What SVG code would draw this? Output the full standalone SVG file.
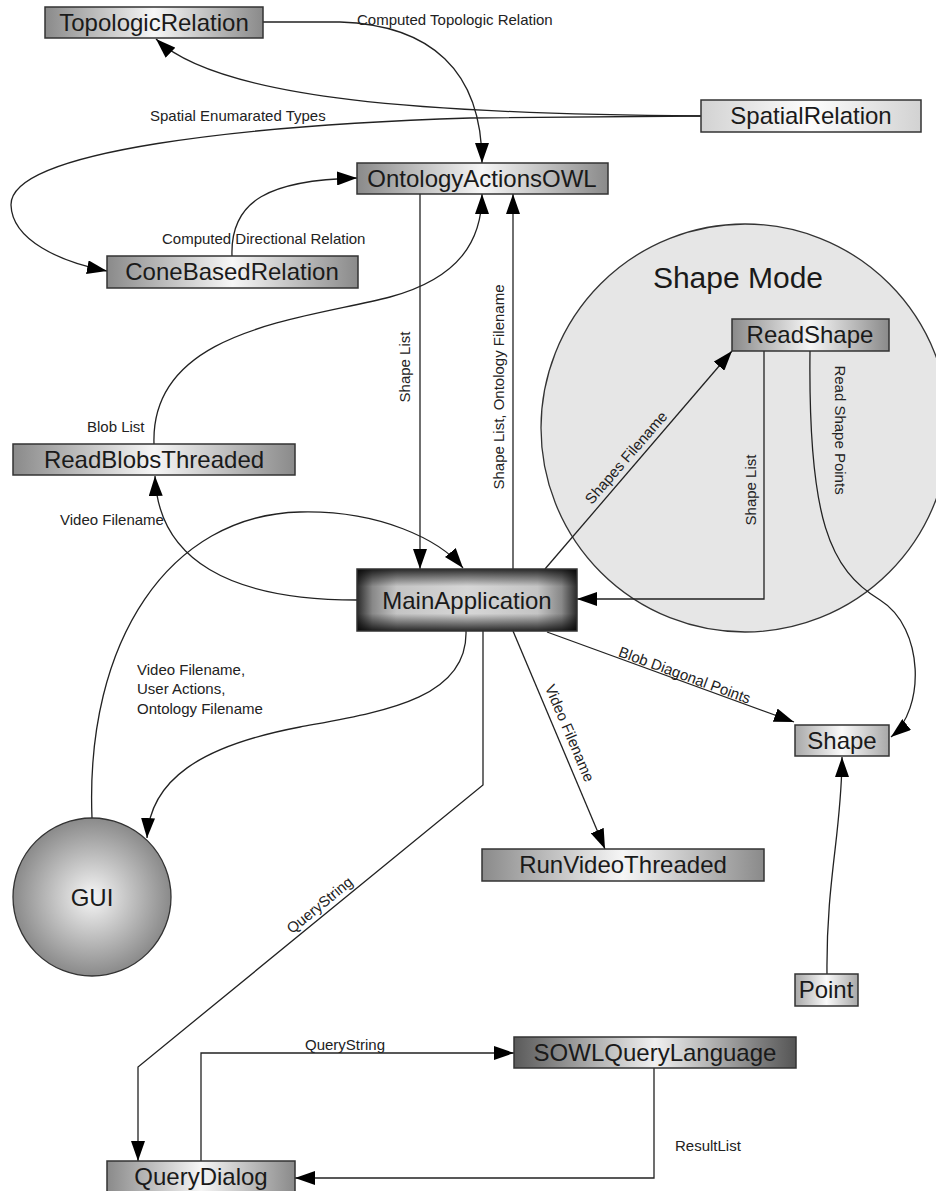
<svg xmlns="http://www.w3.org/2000/svg" width="936" height="1191" viewBox="0 0 936 1191">
  <defs>
    <style>
      .box { stroke: #333; stroke-width: 1.5; }
      .name { font-family: "Liberation Sans", Arial, sans-serif; font-size: 24px; fill: #1a1a1a; text-anchor: middle; }
      .lbl { font-family: "Liberation Sans", Arial, sans-serif; font-size: 15px; fill: #222; }
      .mid { text-anchor: middle; }
      .edge { fill: none; stroke: #222; stroke-width: 1.3; marker-end: url(#arrow); }
      .plain { fill: none; stroke: #222; stroke-width: 1.3; }
    </style>
    <marker id="arrow" viewBox="0 0 20 14" refX="20" refY="7" markerWidth="20" markerHeight="14" markerUnits="userSpaceOnUse" orient="auto">
      <path d="M0,0 L20,7 L0,14 z" fill="#000"/>
    </marker>
    <linearGradient id="boxG" x1="0" y1="0" x2="1" y2="0">
      <stop offset="0" stop-color="#8a8a8a"/>
      <stop offset="0.5" stop-color="#f6f6f6"/>
      <stop offset="1" stop-color="#8a8a8a"/>
    </linearGradient>
    <linearGradient id="darkG" x1="0" y1="0" x2="1" y2="0">
      <stop offset="0" stop-color="#5a5a5a"/>
      <stop offset="0.5" stop-color="#f0f0f0"/>
      <stop offset="1" stop-color="#555"/>
    </linearGradient>
    <linearGradient id="midG" x1="0" y1="0" x2="1" y2="0">
      <stop offset="0" stop-color="#a8a8a8"/>
      <stop offset="0.5" stop-color="#fafafa"/>
      <stop offset="1" stop-color="#a8a8a8"/>
    </linearGradient>
    <linearGradient id="lightG" x1="0" y1="0" x2="1" y2="0">
      <stop offset="0" stop-color="#d2d2d2"/>
      <stop offset="0.5" stop-color="#fdfdfd"/>
      <stop offset="1" stop-color="#d2d2d2"/>
    </linearGradient>
    <linearGradient id="mainH" x1="0" y1="0" x2="1" y2="0">
      <stop offset="0" stop-color="#2a2a2a"/>
      <stop offset="0.07" stop-color="#888"/>
      <stop offset="0.18" stop-color="#c4c4c4"/>
      <stop offset="0.5" stop-color="#d6d6d6"/>
      <stop offset="0.82" stop-color="#c4c4c4"/>
      <stop offset="0.93" stop-color="#888"/>
      <stop offset="1" stop-color="#2a2a2a"/>
    </linearGradient>
    <linearGradient id="mainV" x1="0" y1="0" x2="0" y2="1">
      <stop offset="0" stop-color="#000" stop-opacity="0.8"/>
      <stop offset="0.28" stop-color="#000" stop-opacity="0"/>
      <stop offset="0.72" stop-color="#000" stop-opacity="0"/>
      <stop offset="1" stop-color="#000" stop-opacity="0.8"/>
    </linearGradient>
    <radialGradient id="guiG" cx="0.5" cy="0.5" r="0.5">
      <stop offset="0" stop-color="#f6f6f6"/>
      <stop offset="1" stop-color="#8a8a8a"/>
    </radialGradient>
  </defs>

  <rect width="936" height="1191" fill="#fff"/>

  <!-- Shape Mode region -->
  <g id="shape-mode">
    <circle cx="745" cy="428" r="204" fill="#e6e6e6" stroke="#333" stroke-width="1.3"/>
    <text x="738" y="288" font-family="Liberation Sans, Arial, sans-serif" font-size="30" fill="#1a1a1a" text-anchor="middle">Shape Mode</text>
  </g>

  <!-- Connectors -->
  <g id="connectors">
    <!-- SpatialRelation -> TopologicRelation -->
    <path class="edge" d="M701,116 C430,114 220,100 156,39"/>
    <!-- SpatialRelation -> ConeBasedRelation -->
    <path class="edge" d="M701,116 L470,118 C250,125 10,150 11,205 C12,240 60,262 107,271"/>
    <text class="lbl" x="150" y="121">Spatial Enumarated Types</text>
    <!-- TopologicRelation -> OntologyActionsOWL -->
    <path class="edge" d="M263,22 L340,22 C430,25 482,70 482,163"/>
    <text class="lbl" x="357" y="25">Computed Topologic Relation</text>
    <!-- ConeBasedRelation -> OntologyActionsOWL -->
    <path class="edge" d="M232,256 C230,200 270,180 357,178"/>
    <text class="lbl" x="162" y="244">Computed Directional Relation</text>
    <!-- OntologyActionsOWL -> MainApplication -->
    <path class="edge" d="M420,194 L420,569"/>
    <text class="lbl mid" transform="translate(410,367) rotate(-90)">Shape List</text>
    <!-- MainApplication -> OntologyActionsOWL -->
    <path class="edge" d="M513,569 L513,194"/>
    <text class="lbl mid" transform="translate(504,387) rotate(-90)">Shape List, Ontology Filename</text>
    <!-- ReadBlobsThreaded -> OntologyActionsOWL -->
    <path class="edge" d="M154,444 C150,330 300,320 390,297 C460,278 482,240 482,194"/>
    <text class="lbl" x="87" y="432">Blob List</text>
    <!-- MainApplication -> ReadBlobsThreaded -->
    <path class="edge" d="M357,600 C230,600 158,560 155,476"/>
    <text class="lbl" x="60" y="525">Video Filename</text>
    <!-- GUI -> MainApplication -->
    <path class="edge" d="M92,818 C85,640 170,515 300,512 C380,510 440,540 463,568"/>
    <text class="lbl" x="137" y="675">Video Filename,</text>
    <text class="lbl" x="137" y="694">User Actions,</text>
    <text class="lbl" x="137" y="714">Ontology Filename</text>
    <!-- MainApplication -> GUI -->
    <path class="edge" d="M466,631 C468,700 380,712 300,727 C200,746 150,780 147,838"/>
    <!-- MainApplication -> QueryDialog -->
    <path class="edge" d="M483,631 L483,785 L138,1067 L138,1161"/>
    <text class="lbl mid" transform="translate(323,909) rotate(-39.3)">QueryString</text>
    <!-- MainApplication -> RunVideoThreaded -->
    <path class="edge" d="M513,631 L605,849"/>
    <text class="lbl mid" transform="translate(565,735) rotate(67.1)">Video Filename</text>
    <!-- MainApplication -> Shape -->
    <path class="edge" d="M547,632 L794,722"/>
    <text class="lbl mid" transform="translate(683,680) rotate(20.1)">Blob Diagonal Points</text>
    <!-- MainApplication -> ReadShape -->
    <path class="edge" d="M545,569 L732,351"/>
    <text class="lbl mid" transform="translate(630,461) rotate(-49.2)">Shapes Filename</text>
    <!-- ReadShape -> MainApplication -->
    <path class="edge" d="M764,351 L764,599 L577,599"/>
    <text class="lbl mid" transform="translate(756,490) rotate(-90)">Shape List</text>
    <!-- ReadShape -> Shape -->
    <path class="edge" d="M810,351 C808,520 830,570 880,600 C925,628 925,710 891,737"/>
    <text class="lbl mid" transform="translate(835,430) rotate(90)">Read Shape Points</text>
    <!-- Point -> Shape -->
    <path class="edge" d="M827,974 C826,880 842,830 842,757"/>
    <!-- QueryDialog -> SOWLQueryLanguage -->
    <path class="edge" d="M201,1161 L201,1053 L514,1053"/>
    <text class="lbl" x="305" y="1050">QueryString</text>
    <!-- SOWLQueryLanguage -> QueryDialog -->
    <path class="edge" d="M654,1068 L654,1178 L295,1178"/>
    <text class="lbl" x="675" y="1151">ResultList</text>
  </g>

  <!-- Nodes -->
  <g id="TopologicRelation">
    <rect class="box" x="45" y="7" width="218" height="31" fill="url(#boxG)"/>
    <text class="name" x="154" y="31">TopologicRelation</text>
  </g>
  <g id="SpatialRelation">
    <rect class="box" x="701" y="100" width="220" height="32" fill="url(#lightG)"/>
    <text class="name" x="811" y="124">SpatialRelation</text>
  </g>
  <g id="OntologyActionsOWL">
    <rect class="box" x="357" y="163" width="251" height="31" fill="url(#boxG)"/>
    <text class="name" x="482" y="187">OntologyActionsOWL</text>
  </g>
  <g id="ConeBasedRelation">
    <rect class="box" x="107" y="256" width="251" height="32" fill="url(#boxG)"/>
    <text class="name" x="232" y="280">ConeBasedRelation</text>
  </g>
  <g id="ReadBlobsThreaded">
    <rect class="box" x="13" y="444" width="282" height="31" fill="url(#boxG)"/>
    <text class="name" x="154" y="468">ReadBlobsThreaded</text>
  </g>
  <g id="ReadShape">
    <rect class="box" x="732" y="319" width="157" height="32" fill="url(#boxG)"/>
    <text class="name" x="810" y="343">ReadShape</text>
  </g>
  <g id="MainApplication">
    <rect x="357" y="569" width="220" height="62" fill="url(#mainH)"/>
    <rect class="box" x="357" y="569" width="220" height="62" fill="url(#mainV)"/>
    <text class="name" x="467" y="609" font-size="25">MainApplication</text>
  </g>
  <g id="Shape">
    <rect class="box" x="795" y="725" width="94" height="31" fill="url(#midG)"/>
    <text class="name" x="842" y="749">Shape</text>
  </g>
  <g id="RunVideoThreaded">
    <rect class="box" x="482" y="849" width="282" height="32" fill="url(#boxG)"/>
    <text class="name" x="623" y="873">RunVideoThreaded</text>
  </g>
  <g id="GUI">
    <circle cx="92" cy="897" r="79" fill="url(#guiG)" stroke="#333" stroke-width="1.3"/>
    <text class="name" x="92" y="906" font-size="26">GUI</text>
  </g>
  <g id="Point">
    <rect class="box" x="795" y="974" width="63" height="32" fill="url(#midG)"/>
    <text class="name" x="826" y="998">Point</text>
  </g>
  <g id="SOWLQueryLanguage">
    <rect class="box" x="514" y="1037" width="282" height="31" fill="url(#darkG)"/>
    <text class="name" x="655" y="1061">SOWLQueryLanguage</text>
  </g>
  <g id="QueryDialog">
    <rect class="box" x="107" y="1161" width="188" height="32" fill="url(#boxG)"/>
    <text class="name" x="201" y="1185">QueryDialog</text>
  </g>
</svg>
